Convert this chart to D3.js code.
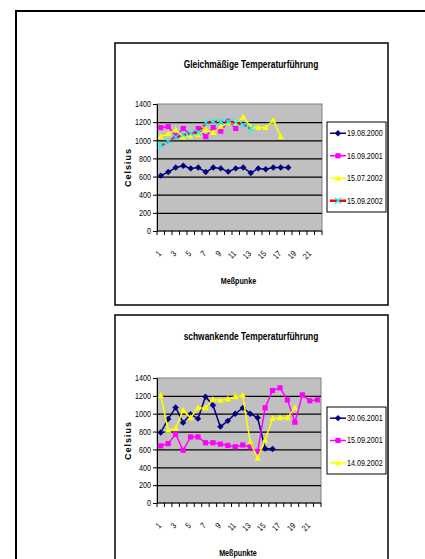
<!DOCTYPE html>
<html>
<head>
<meta charset="utf-8">
<script src="https://cdnjs.cloudflare.com/ajax/libs/d3/7.8.5/d3.min.js"></script>
<style>
  body { margin: 0; background: #fff; }
  svg { display: block; }
  text { font-family: "Liberation Sans", Arial, sans-serif; fill: #000; }
</style>
</head>
<body>
<div id="chart"></div>
<script>
// categories 1..22, labels every second one
const categories = d3.range(1, 23).map(String);
const tickLabels = ["1", "3", "5", "7", "9", "11", "13", "15", "17", "19", "21"];
const yTicks = [0, 200, 400, 600, 800, 1000, 1200, 1400];

// chart 1: Gleichmäßige Temperaturführung
const s19082000 = [610, 650, 700, 720, 690, 700, 650, 700, 690, 655, 690, 700, 640, 690, 680, 700, 700, 700];
const s16092001 = [1140, 1150, 1050, 1130, 1060, 1130, 1040, 1140, 1100, 1210, 1130];
const s15072002 = [1040, 1070, 1115, 1035, 1050, 1060, 1115, 1085, 1150, 1190, 1190, 1255, 1150, 1140, 1140, 1220, 1040];
const s15092002 = [945, 985, 1035, 1060, 1075, 1085, 1195, 1205, 1205, 1205, 1195, 1170, 1130];

// chart 2: schwankende Temperaturführung
const s30062001 = [790, 940, 1070, 900, 995, 945, 1190, 1095, 855, 920, 1000, 1065, 1000, 955, 610, 605];
const s15092001 = [640, 665, 770, 590, 740, 740, 675, 675, 660, 645, 630, 650, 630, 575, 1065, 1260, 1290, 1155, 905, 1210, 1145, 1155];
const s14092002 = [1205, 815, 835, 1040, 955, 1065, 1065, 1160, 1150, 1165, 1190, 1205, 685, 500, 705, 945, 955, 955, 1065];

const charts = [
  {
    box: [115, 43, 388, 305],
    plot: [157, 104, 322, 231],
    title: "Gleichmäßige Temperaturführung",
    titleX: 251,
    xTitle: "Meßpunke",
    legend: [327, 122, 386, 212],
    series: [
      { name: "19.08.2000", values: s19082000, line: "#000080", marker: "diamond", mcolor: "#000080" },
      { name: "16.09.2001", values: s16092001, line: "#ff00ff", marker: "square", mcolor: "#ff00ff" },
      { name: "15.07.2002", values: s15072002, line: "#ffff00", marker: "triangle", mcolor: "#ffff00" },
      { name: "15.09.2002", values: s15092002, line: "#ff0000", marker: "x", mcolor: "#00ffff", dash: "4,2", width: 2.5 }
    ]
  },
  {
    box: [115, 315, 388, 575],
    plot: [157, 378, 321, 503],
    title: "schwankende Temperaturführung",
    titleX: 251,
    xTitle: "Meßpunkte",
    legend: [327, 407, 386, 474],
    series: [
      { name: "30.06.2001", values: s30062001, line: "#000080", marker: "diamond", mcolor: "#000080" },
      { name: "15.09.2001", values: s15092001, line: "#ff00ff", marker: "square", mcolor: "#ff00ff" },
      { name: "14.09.2002", values: s14092002, line: "#ffff00", marker: "triangle", mcolor: "#ffff00" }
    ]
  }
];

const svg = d3.select("#chart").append("svg")
  .attr("width", 425)
  .attr("height", 559);

// outer frame of the page
svg.append("rect")
  .attr("x", 16).attr("y", 11)
  .attr("width", 430).attr("height", 560)
  .attr("fill", "none")
  .attr("stroke", "#000")
  .attr("stroke-width", 2);

function drawMarker(g, type, cx, cy, color) {
  if (type === "diamond") {
    g.append("path").attr("d", `M${cx},${cy - 3.2}L${cx + 3.2},${cy}L${cx},${cy + 3.2}L${cx - 3.2},${cy}Z`).attr("fill", color);
  } else if (type === "square") {
    g.append("rect").attr("x", cx - 2.6).attr("y", cy - 2.6).attr("width", 5.2).attr("height", 5.2).attr("fill", color);
  } else if (type === "triangle") {
    g.append("path").attr("d", `M${cx},${cy - 3.4}L${cx + 3.2},${cy + 2.4}L${cx - 3.2},${cy + 2.4}Z`).attr("fill", color);
  } else if (type === "x") {
    g.append("path").attr("d", `M${cx - 3},${cy - 3}L${cx + 3},${cy + 3}M${cx + 3},${cy - 3}L${cx - 3},${cy + 3}`)
      .attr("stroke", color).attr("stroke-width", 1.3).attr("fill", "none");
  }
}

function drawChart(c) {
  const g = svg.append("g");
  const [bx0, by0, bx1, by1] = c.box;
  const [px0, py0, px1, py1] = c.plot;

  g.append("rect")
    .attr("x", bx0).attr("y", by0)
    .attr("width", bx1 - bx0).attr("height", by1 - by0)
    .attr("fill", "#fff").attr("stroke", "#000").attr("stroke-width", 1.5);

  const x = d3.scaleBand().domain(categories).range([px0, px1]).padding(0);
  const y = d3.scaleLinear().domain([0, 1400]).range([py1, py0]);

  // plot area
  g.append("rect")
    .attr("x", px0).attr("y", py0)
    .attr("width", px1 - px0).attr("height", py1 - py0)
    .attr("fill", "#c0c0c0").attr("stroke", "#808080").attr("stroke-width", 1);

  // gridlines
  g.append("g")
    .attr("transform", `translate(${px0},0)`)
    .call(d3.axisLeft(y).tickValues(yTicks.slice(1, -1)).tickSize(-(px1 - px0)).tickFormat(""))
    .call(a => a.select(".domain").remove())
    .call(a => a.selectAll("line").attr("stroke", "#000").attr("stroke-width", 1.3));

  // y axis
  g.append("g")
    .attr("transform", `translate(${px0},0)`)
    .call(d3.axisLeft(y).tickValues(yTicks).tickFormat(d3.format("d")).tickSize(4).tickPadding(2).tickSizeOuter(0))
    .call(a => a.select(".domain").attr("stroke", "#000"))
    .call(a => a.selectAll("text").attr("class", "narrow").style("font-size", "8.5px").attr("fill", "#000"));

  // x axis ticks at category boundaries
  const xg = g.append("g").attr("transform", `translate(0,${py1})`);
  xg.append("line").attr("x1", px0).attr("x2", px1).attr("stroke", "#000").attr("stroke-width", 1.2);
  xg.selectAll(".btick")
    .data(categories.concat(["end"]))
    .join("line")
    .attr("x1", (d, i) => i < categories.length ? x(d) : px1)
    .attr("x2", (d, i) => i < categories.length ? x(d) : px1)
    .attr("y1", 0).attr("y2", 4)
    .attr("stroke", "#000");

  xg.selectAll(".xlab")
    .data(tickLabels)
    .join("text")
    .attr("class", "narrow")
    .attr("transform", d => `translate(${x(d) + x.bandwidth() / 2 - 1},${21}) rotate(-45)`)
    .attr("text-anchor", "end")
    .attr("dy", "0.35em")
    .style("font-size", "8.5px")
    .text(d => d);

  // series
  const line = d3.line()
    .x((d, i) => x(categories[i]) + x.bandwidth() / 2)
    .y(d => y(d));

  c.series.forEach(s => {
    g.append("path")
      .datum(s.values)
      .attr("d", line)
      .attr("fill", "none")
      .attr("stroke", s.line)
      .attr("stroke-width", s.width || 1.5)
      .attr("stroke-dasharray", s.dash || null);
    const mg = g.append("g");
    s.values.forEach((v, i) => drawMarker(mg, s.marker, x(categories[i]) + x.bandwidth() / 2, y(v), s.mcolor));
  });

  // titles
  g.append("text")
    .attr("class", "narrow")
    .attr("x", c.titleX).attr("y", by0 + 25)
    .attr("text-anchor", "middle")
    .style("font-size", "10px").style("font-weight", "bold")
    .text(c.title);

  g.append("text")
    .attr("class", "narrow")
    .attr("x", (px0 + px1) / 2 - 1).attr("y", py1 + 53)
    .attr("text-anchor", "middle")
    .style("font-size", "8.5px").style("font-weight", "bold")
    .text(c.xTitle);

  g.append("text")
    .attr("transform", `translate(131,${(py0 + py1) / 2}) rotate(-90)`)
    .attr("text-anchor", "middle")
    .style("font-size", "9px").style("font-weight", "bold")
    .style("letter-spacing", "1px")
    .text("Celsius");

  // legend
  const [lx0, ly0, lx1, ly1] = c.legend;
  const lg = g.append("g");
  lg.append("rect")
    .attr("x", lx0).attr("y", ly0)
    .attr("width", lx1 - lx0).attr("height", ly1 - ly0)
    .attr("fill", "#fff").attr("stroke", "#000").attr("stroke-width", 1);
  const step = (ly1 - ly0) / c.series.length;
  c.series.forEach((s, i) => {
    const cy = ly0 + step * (i + 0.5);
    lg.append("line")
      .attr("x1", lx0 + 3).attr("x2", lx0 + 19)
      .attr("y1", cy).attr("y2", cy)
      .attr("stroke", s.line).attr("stroke-width", s.width || 1.5);
    drawMarker(lg, s.marker, lx0 + 11, cy, s.mcolor);
    lg.append("text")
      .attr("class", "narrow")
      .attr("x", lx0 + 20).attr("y", cy)
      .attr("dy", "0.35em")
      .style("font-size", "8.5px")
      .text(s.name);
  });
}

charts.forEach(drawChart);

// the original uses a condensed face: squeeze the text horizontally
svg.selectAll("text.narrow").each(function () {
  const len = this.getComputedTextLength();
  if (len > 0) {
    d3.select(this)
      .attr("textLength", len * 0.84)
      .attr("lengthAdjust", "spacingAndGlyphs");
  }
});
</script>
</body>
</html>
